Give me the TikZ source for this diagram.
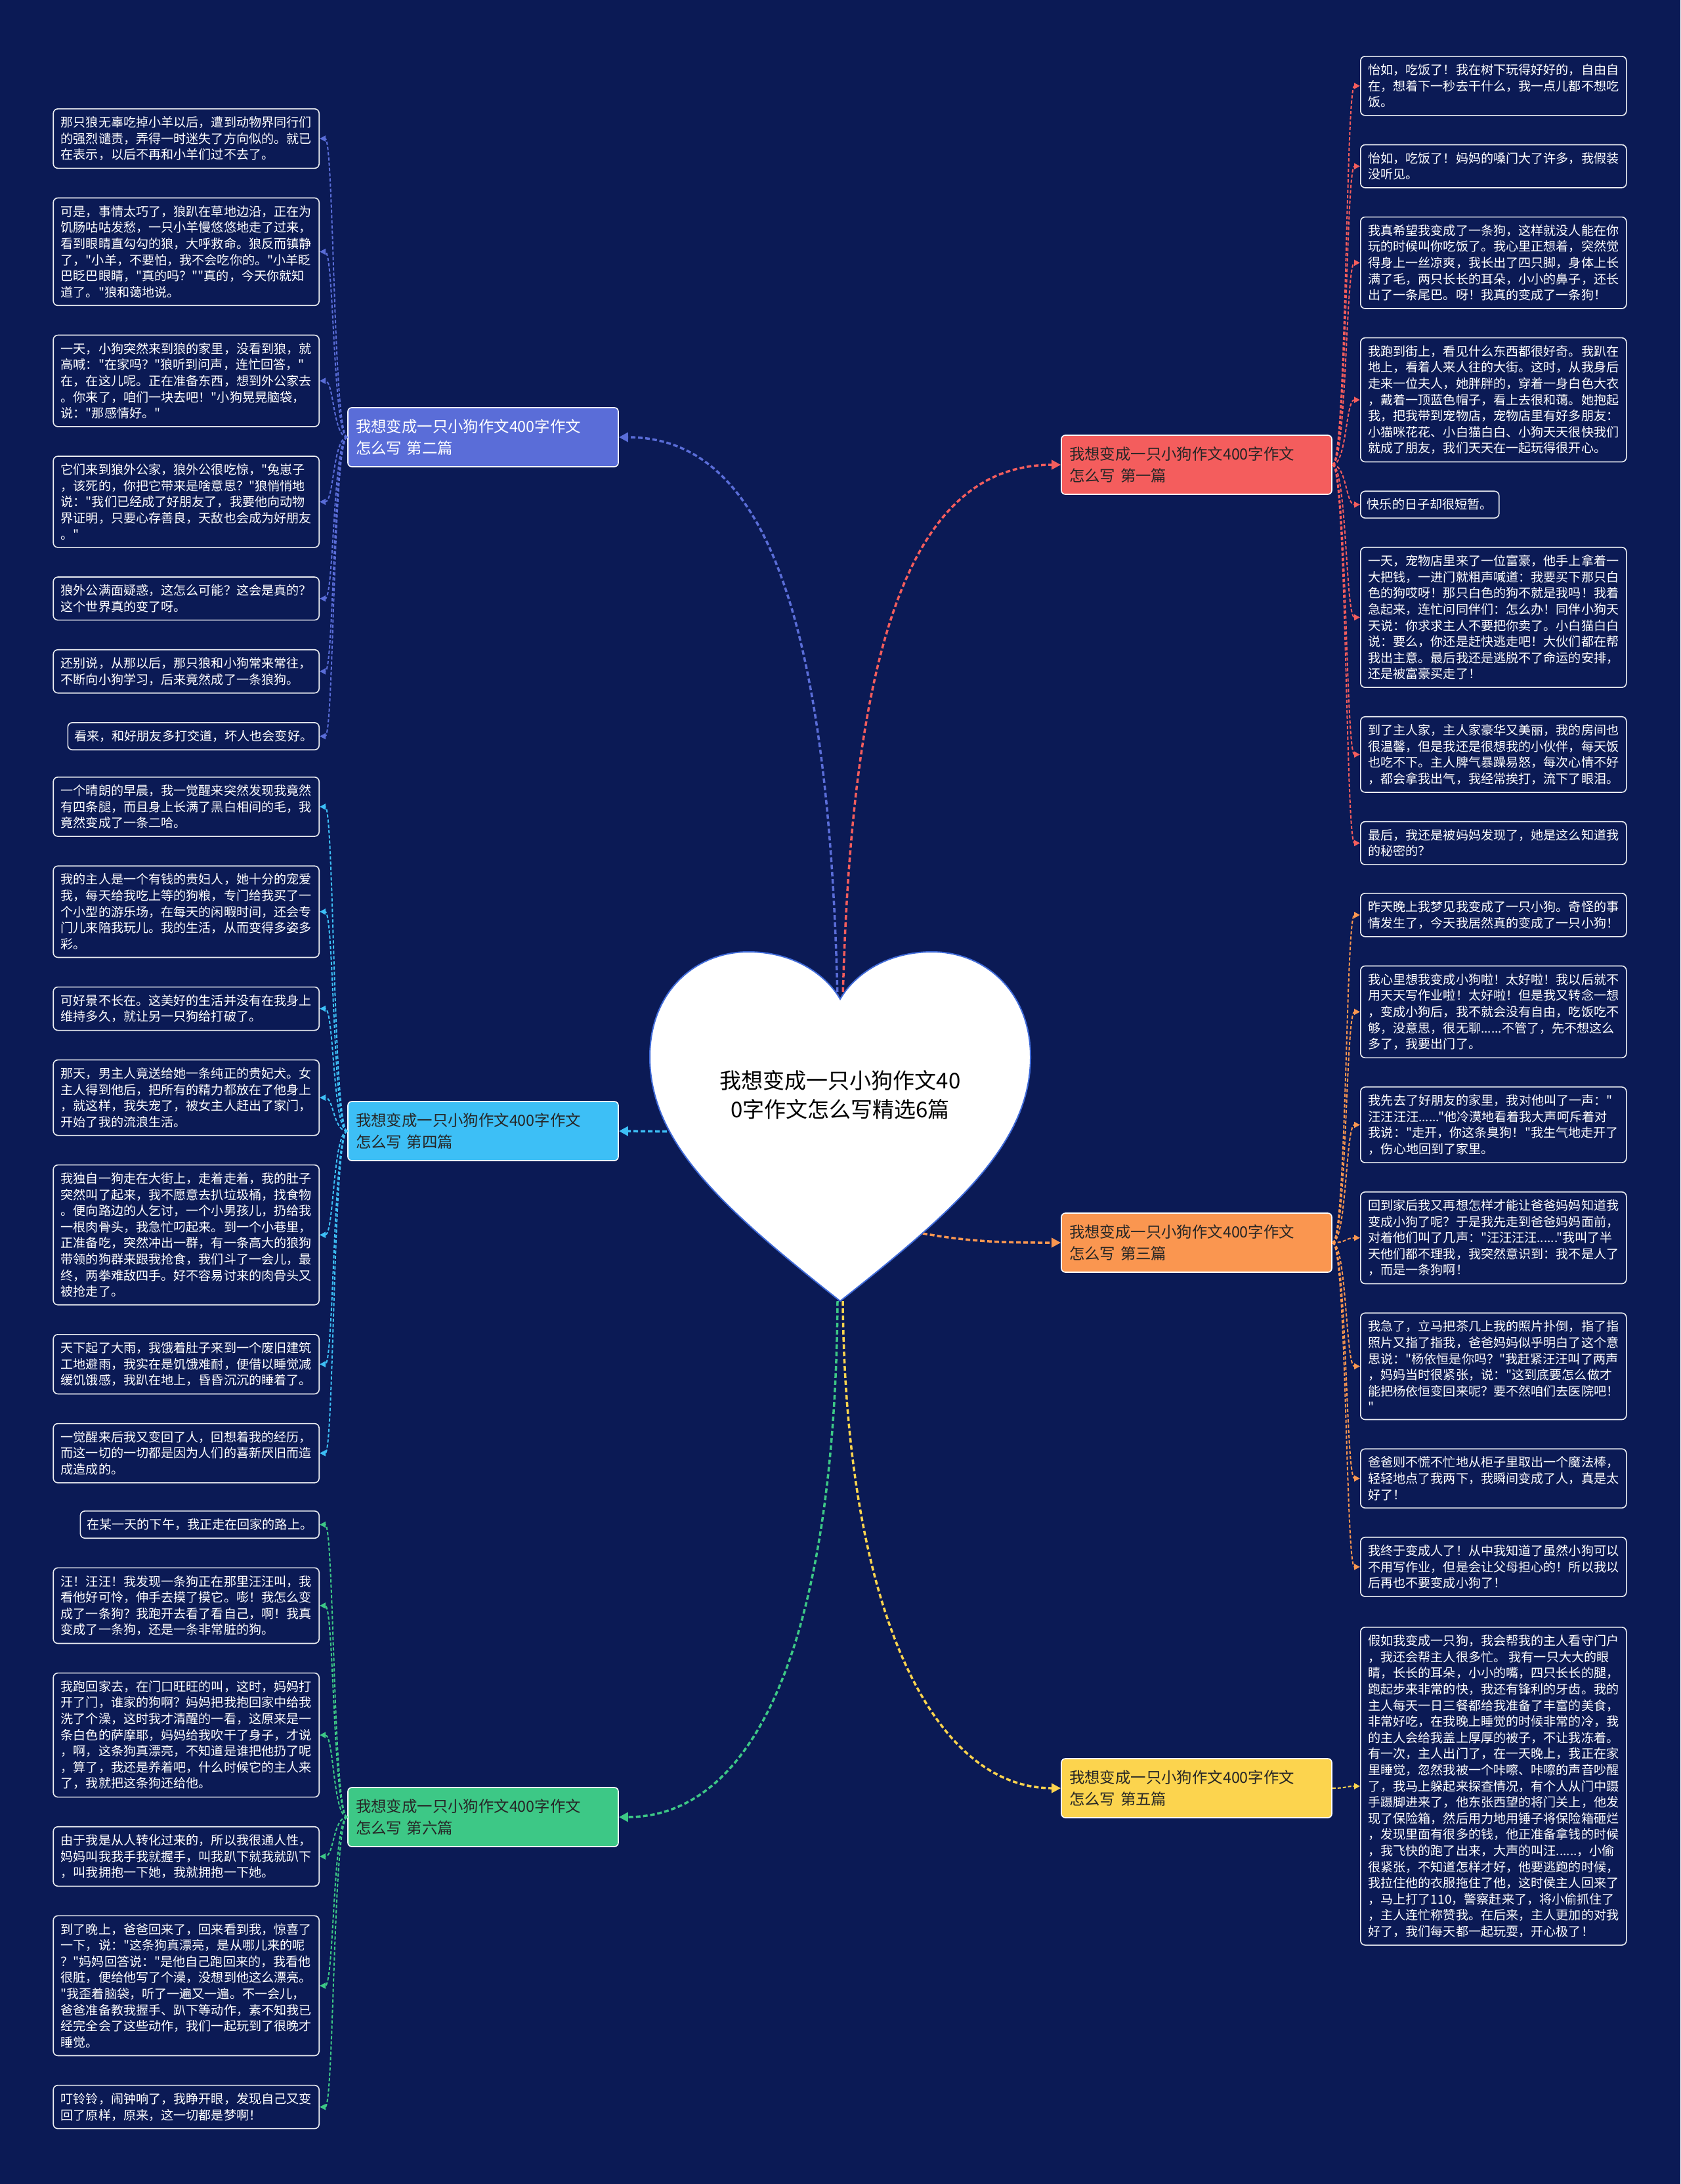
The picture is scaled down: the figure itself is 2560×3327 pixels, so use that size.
\documentclass[tikz,border=0pt]{standalone}
\usepackage{fontspec}
\usepackage{xcolor}
\usepackage{tikz}
\usetikzlibrary{positioning,arrows.meta}
\newfontfamily\zh{Noto Sans CJK SC}
\definecolor{navy}{HTML}{0B1A55}
\definecolor{essay1}{HTML}{F45D5D}
\definecolor{essay2}{HTML}{5A6DD8}
\definecolor{essay3}{HTML}{FA9650}
\definecolor{essay4}{HTML}{3DBFF6}
\definecolor{essay5}{HTML}{FCD44E}
\definecolor{essay6}{HTML}{3DC886}
\definecolor{heartline}{HTML}{3F6AD8}

\begin{document}
\begin{tikzpicture}[x=1pt, y=-1pt,
  leaf/.style={draw=white!92!navy, line width=1.6pt, rounded corners=7pt, fill=navy, text=white, align=left,
    minimum width=405pt, inner xsep=10pt, inner ysep=11.6pt, font={\zh\fontsize{19.1pt}{24.6pt}\selectfont}},
  branch/.style={draw=white, line width=1.6pt, rounded corners=6pt, fill=#1, text=black!85, align=left,
    text width=388pt, inner xsep=12pt, minimum height=90pt, font={\zh\fontsize{23.4pt}{33.5pt}\selectfont}},
  trunk/.style={draw=#1, line width=3.5pt, dash pattern=on 7pt off 4pt, -{Triangle[length=14pt,width=14pt]}},
  twig/.style={draw=#1, line width=2pt, dash pattern=on 5pt off 3pt, -{Triangle[length=9pt,width=9pt]}}]
\useasboundingbox (0,0) rectangle (2560,3327);
\fill[navy] (0,0) rectangle (2560,3327);
\coordinate (notch) at (1280,1522);
\coordinate (tip) at (1280,1982);
\coordinate (hl) at (1060,1724);
\coordinate (hr) at (1395,1877);

\node[branch=essay2, text=white] (b2) at (736,666) {我想变成一只小狗作文400字作文\\怎么写 第二篇};
\node[branch=essay1] (b1) at (1823,708) {我想变成一只小狗作文400字作文\\怎么写 第一篇};
\node[branch=essay4] (b4) at (736,1723) {我想变成一只小狗作文400字作文\\怎么写 第四篇};
\node[branch=essay3] (b3) at (1823,1893) {我想变成一只小狗作文400字作文\\怎么写 第三篇};
\node[branch=essay6] (b6) at (736,2768) {我想变成一只小狗作文400字作文\\怎么写 第六篇};
\node[branch=essay5] (b5) at (1823,2724) {我想变成一只小狗作文400字作文\\怎么写 第五篇};

\node[leaf, anchor=north east] (a1) at (487,165) {那只狼无辜吃掉小羊以后，遭到动物界同行们\\的强烈谴责，弄得一时迷失了方向似的。就已\\在表示，以后不再和小羊们过不去了。};
\node[leaf, below=43.5pt of a1.south east, anchor=north east] (a2) {可是，事情太巧了，狼趴在草地边沿，正在为\\饥肠咕咕发愁，一只小羊慢悠悠地走了过来，\\看到眼睛直勾勾的狼，大呼救命。狼反而镇静\\了，"小羊，不要怕，我不会吃你的。"小羊眨\\巴眨巴眼睛，"真的吗？""真的，今天你就知\\道了。"狼和蔼地说。};
\node[leaf, below=43.5pt of a2.south east, anchor=north east] (a3) {一天，小狗突然来到狼的家里，没看到狼，就\\高喊："在家吗？"狼听到问声，连忙回答，"\\在，在这儿呢。正在准备东西，想到外公家去\\。你来了，咱们一块去吧！"小狗晃晃脑袋，\\说："那感情好。"};
\node[leaf, below=43.5pt of a3.south east, anchor=north east] (a4) {它们来到狼外公家，狼外公很吃惊，"兔崽子\\，该死的，你把它带来是啥意思？"狼悄悄地\\说："我们已经成了好朋友了，我要他向动物\\界证明，只要心存善良，天敌也会成为好朋友\\。"};
\node[leaf, below=43.5pt of a4.south east, anchor=north east] (a5) {狼外公满面疑惑，这怎么可能？这会是真的？\\这个世界真的变了呀。};
\node[leaf, below=43.5pt of a5.south east, anchor=north east] (a6) {还别说，从那以后，那只狼和小狗常来常往，\\不断向小狗学习，后来竟然成了一条狼狗。};
\node[leaf, minimum width=0pt, below=43.5pt of a6.south east, anchor=north east] (a7) {看来，和好朋友多打交道，坏人也会变好。};

\node[leaf, anchor=north east] (c1) at (487,1183) {一个晴朗的早晨，我一觉醒来突然发现我竟然\\有四条腿，而且身上长满了黑白相间的毛，我\\竟然变成了一条二哈。};
\node[leaf, below=43.5pt of c1.south east, anchor=north east] (c2) {我的主人是一个有钱的贵妇人，她十分的宠爱\\我，每天给我吃上等的狗粮，专门给我买了一\\个小型的游乐场，在每天的闲暇时间，还会专\\门儿来陪我玩儿。我的生活，从而变得多姿多\\彩。};
\node[leaf, below=43.5pt of c2.south east, anchor=north east] (c3) {可好景不长在。这美好的生活并没有在我身上\\维持多久，就让另一只狗给打破了。};
\node[leaf, below=43.5pt of c3.south east, anchor=north east] (c4) {那天，男主人竟送给她一条纯正的贵妃犬。女\\主人得到他后，把所有的精力都放在了他身上\\，就这样，我失宠了，被女主人赶出了家门，\\开始了我的流浪生活。};
\node[leaf, below=43.5pt of c4.south east, anchor=north east] (c5) {我独自一狗走在大街上，走着走着，我的肚子\\突然叫了起来，我不愿意去扒垃圾桶，找食物\\。便向路边的人乞讨，一个小男孩儿，扔给我\\一根肉骨头，我急忙叼起来。到一个小巷里，\\正准备吃，突然冲出一群，有一条高大的狼狗\\带领的狗群来跟我抢食，我们斗了一会儿，最\\终，两拳难敌四手。好不容易讨来的肉骨头又\\被抢走了。};
\node[leaf, below=43.5pt of c5.south east, anchor=north east] (c6) {天下起了大雨，我饿着肚子来到一个废旧建筑\\工地避雨，我实在是饥饿难耐，便借以睡觉减\\缓饥饿感，我趴在地上，昏昏沉沉的睡着了。};
\node[leaf, below=43.5pt of c6.south east, anchor=north east] (c7) {一觉醒来后我又变回了人，回想着我的经历，\\而这一切的一切都是因为人们的喜新厌旧而造\\成造成的。};

\node[leaf, minimum width=0pt, anchor=north east] (e1) at (487,2301) {在某一天的下午，我正走在回家的路上。};
\node[leaf, below=43.5pt of e1.south east, anchor=north east] (e2) {汪！汪汪！我发现一条狗正在那里汪汪叫，我\\看他好可怜，伸手去摸了摸它。嘭！我怎么变\\成了一条狗？我跑开去看了看自己，啊！我真\\变成了一条狗，还是一条非常脏的狗。};
\node[leaf, below=43.5pt of e2.south east, anchor=north east] (e3) {我跑回家去，在门口旺旺的叫，这时，妈妈打\\开了门，谁家的狗啊？妈妈把我抱回家中给我\\洗了个澡，这时我才清醒的一看，这原来是一\\条白色的萨摩耶，妈妈给我吹干了身子，才说\\，啊，这条狗真漂亮，不知道是谁把他扔了呢\\，算了，我还是养着吧，什么时候它的主人来\\了，我就把这条狗还给他。};
\node[leaf, below=43.5pt of e3.south east, anchor=north east] (e4) {由于我是从人转化过来的，所以我很通人性，\\妈妈叫我我手我就握手，叫我趴下就我就趴下\\，叫我拥抱一下她，我就拥抱一下她。};
\node[leaf, below=43.5pt of e4.south east, anchor=north east] (e5) {到了晚上，爸爸回来了，回来看到我，惊喜了\\一下，说："这条狗真漂亮，是从哪儿来的呢\\？"妈妈回答说："是他自己跑回来的，我看他\\很脏，便给他写了个澡，没想到他这么漂亮。\\"我歪着脑袋，听了一遍又一遍。不一会儿，\\爸爸准备教我握手、趴下等动作，素不知我已\\经完全会了这些动作，我们一起玩到了很晚才\\睡觉。};
\node[leaf, below=43.5pt of e5.south east, anchor=north east] (e6) {叮铃铃，闹钟响了，我睁开眼，发现自己又变\\回了原样，原来，这一切都是梦啊！};

\node[leaf, anchor=north west] (d1) at (2072,85) {怡如，吃饭了！我在树下玩得好好的，自由自\\在，想着下一秒去干什么，我一点儿都不想吃\\饭。};
\node[leaf, below=43pt of d1.south west, anchor=north west] (d2) {怡如，吃饭了！妈妈的嗓门大了许多，我假装\\没听见。};
\node[leaf, below=43pt of d2.south west, anchor=north west] (d3) {我真希望我变成了一条狗，这样就没人能在你\\玩的时候叫你吃饭了。我心里正想着，突然觉\\得身上一丝凉爽，我长出了四只脚，身体上长\\满了毛，两只长长的耳朵，小小的鼻子，还长\\出了一条尾巴。呀！我真的变成了一条狗！};
\node[leaf, below=43pt of d3.south west, anchor=north west] (d4) {我跑到街上，看见什么东西都很好奇。我趴在\\地上，看着人来人往的大街。这时，从我身后\\走来一位夫人，她胖胖的，穿着一身白色大衣\\，戴着一顶蓝色帽子，看上去很和蔼。她抱起\\我，把我带到宠物店，宠物店里有好多朋友：\\小猫咪花花、小白猫白白、小狗天天很快我们\\就成了朋友，我们天天在一起玩得很开心。};
\node[leaf, minimum width=0pt, below=43pt of d4.south west, anchor=north west] (d5) {快乐的日子却很短暂。};
\node[leaf, below=43pt of d5.south west, anchor=north west] (d6) {一天，宠物店里来了一位富豪，他手上拿着一\\大把钱，一进门就粗声喊道：我要买下那只白\\色的狗哎呀！那只白色的狗不就是我吗！我着\\急起来，连忙问同伴们：怎么办！同伴小狗天\\天说：你求求主人不要把你卖了。小白猫白白\\说：要么，你还是赶快逃走吧！大伙们都在帮\\我出主意。最后我还是逃脱不了命运的安排，\\还是被富豪买走了！};
\node[leaf, below=43pt of d6.south west, anchor=north west] (d7) {到了主人家，主人家豪华又美丽，我的房间也\\很温馨，但是我还是很想我的小伙伴，每天饭\\也吃不下。主人脾气暴躁易怒，每次心情不好\\，都会拿我出气，我经常挨打，流下了眼泪。};
\node[leaf, below=43pt of d7.south west, anchor=north west] (d8) {最后，我还是被妈妈发现了，她是这么知道我\\的秘密的？};

\node[leaf, anchor=north west] (f1) at (2072,1360) {昨天晚上我梦见我变成了一只小狗。奇怪的事\\情发生了，今天我居然真的变成了一只小狗！};
\node[leaf, below=43pt of f1.south west, anchor=north west] (f2) {我心里想我变成小狗啦！太好啦！我以后就不\\用天天写作业啦！太好啦！但是我又转念一想\\，变成小狗后，我不就会没有自由，吃饭吃不\\够，没意思，很无聊......不管了，先不想这么\\多了，我要出门了。};
\node[leaf, below=43pt of f2.south west, anchor=north west] (f3) {我先去了好朋友的家里，我对他叫了一声："\\汪汪汪汪......"他冷漠地看着我大声呵斥着对\\我说："走开，你这条臭狗！"我生气地走开了\\，伤心地回到了家里。};
\node[leaf, below=43pt of f3.south west, anchor=north west] (f4) {回到家后我又再想怎样才能让爸爸妈妈知道我\\变成小狗了呢？于是我先走到爸爸妈妈面前，\\对着他们叫了几声："汪汪汪汪......"我叫了半\\天他们都不理我，我突然意识到：我不是人了\\，而是一条狗啊！};
\node[leaf, below=43pt of f4.south west, anchor=north west] (f5) {我急了，立马把茶几上我的照片扑倒，指了指\\照片又指了指我，爸爸妈妈似乎明白了这个意\\思说："杨依恒是你吗？"我赶紧汪汪叫了两声\\，妈妈当时很紧张，说："这到底要怎么做才\\能把杨依恒变回来呢？要不然咱们去医院吧！\\"};
\node[leaf, below=43pt of f5.south west, anchor=north west] (f6) {爸爸则不慌不忙地从柜子里取出一个魔法棒，\\轻轻地点了我两下，我瞬间变成了人，真是太\\好了！};
\node[leaf, below=43pt of f6.south west, anchor=north west] (f7) {我终于变成人了！从中我知道了虽然小狗可以\\不用写作业，但是会让父母担心的！所以我以\\后再也不要变成小狗了！};

\node[leaf, anchor=north west] (g1) at (2072,2478) {假如我变成一只狗，我会帮我的主人看守门户\\，我还会帮主人很多忙。 我有一只大大的眼\\睛，长长的耳朵，小小的嘴，四只长长的腿，\\跑起步来非常的快，我还有锋利的牙齿。我的\\主人每天一日三餐都给我准备了丰富的美食，\\非常好吃，在我晚上睡觉的时候非常的冷，我\\的主人会给我盖上厚厚的被子，不让我冻着。\\有一次，主人出门了，在一天晚上，我正在家\\里睡觉，忽然我被一个咔嚓、咔嚓的声音吵醒\\了，我马上躲起来探查情况，有个人从门中蹑\\手蹑脚进来了，他东张西望的将门关上，他发\\现了保险箱，然后用力地用锤子将保险箱砸烂\\，发现里面有很多的钱，他正准备拿钱的时候\\，我飞快的跑了出来，大声的叫汪......，小偷\\很紧张，不知道怎样才好，他要逃跑的时候，\\我拉住他的衣服拖住了他，这时侯主人回来了\\，马上打了110，警察赶来了，将小偷抓住了\\，主人连忙称赞我。在后来，主人更加的对我\\好了，我们每天都一起玩耍，开心极了！};

\foreach \n in {a1,a2,a3,a4,a5,a6,a7} \draw[twig=essay2] (b2.west) .. controls +(-22,0) and +(22,0) .. (\n.east);
\foreach \n in {c1,c2,c3,c4,c5,c6,c7} \draw[twig=essay4] (b4.west) .. controls +(-22,0) and +(22,0) .. (\n.east);
\foreach \n in {e1,e2,e3,e4,e5,e6} \draw[twig=essay6] (b6.west) .. controls +(-22,0) and +(22,0) .. (\n.east);
\foreach \n in {d1,d2,d3,d4,d5,d6,d7,d8} \draw[twig=essay1] (b1.east) .. controls +(22,0) and +(-22,0) .. (\n.west);
\foreach \n in {f1,f2,f3,f4,f5,f6,f7} \draw[twig=essay3] (b3.east) .. controls +(22,0) and +(-22,0) .. (\n.west);
\draw[twig=essay5] (b5.east) .. controls +(22,0) and +(-22,0) .. (g1.west);

\draw[trunk=essay2] ([xshift=-4pt]notch) .. controls (1262,900) and (1150,666) .. (b2.east);
\draw[trunk=essay1] ([xshift=4pt]notch) .. controls (1298,950) and (1400,708) .. (b1.west);
\draw[trunk=essay4] (hl) -- (b4.east);
\draw[trunk=essay3] (hr) .. controls (1480,1893) and (1540,1893) .. (b3.west);
\draw[trunk=essay6] ([xshift=-4pt]tip) .. controls (1272,2500) and (1150,2768) .. (b6.east);
\draw[trunk=essay5] ([xshift=4pt]tip) .. controls (1288,2450) and (1420,2724) .. (b5.west);

\filldraw[fill=white, draw=heartline, line width=2pt] (tip) .. controls (1100,1840) and (990,1740) .. (990,1610)
  .. controls (990,1510) and (1060,1450) .. (1140,1450) .. controls (1215,1450) and (1262,1490) .. (notch)
  .. controls (1298,1490) and (1345,1450) .. (1420,1450) .. controls (1500,1450) and (1570,1510) .. (1570,1610)
  .. controls (1570,1740) and (1460,1840) .. (tip) -- cycle;
\node[font={\zh\fontsize{33pt}{44.5pt}\selectfont}, align=center, text=black] (root) at (1280,1668) {我想变成一只小狗作文40\\0字作文怎么写精选6篇};
\end{tikzpicture}
\end{document}
